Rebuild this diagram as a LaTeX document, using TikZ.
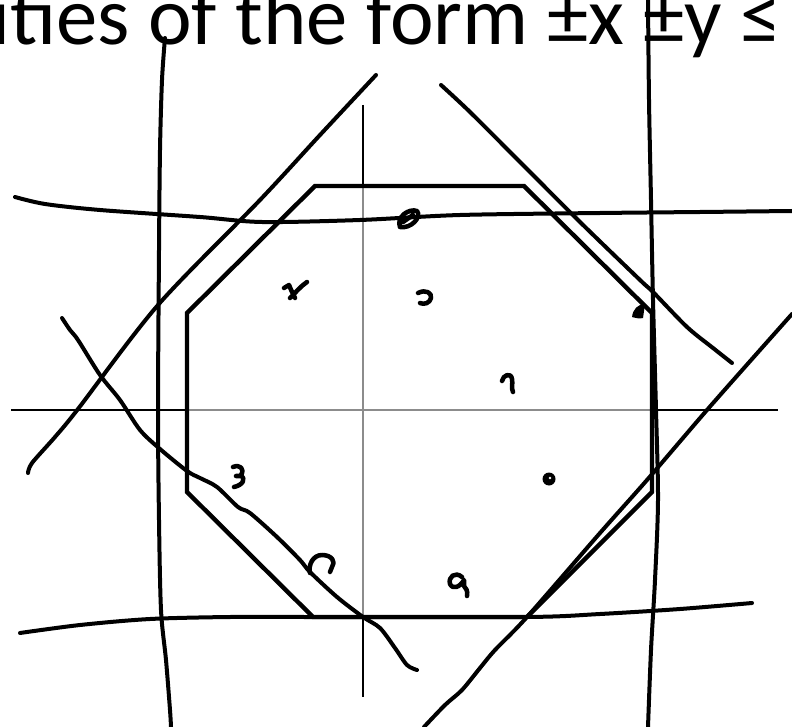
\documentclass[tikz,border=0pt]{standalone}
\usepackage{fontspec}
\setmainfont{Carlito}
\begin{document}
\begin{tikzpicture}[x=0.75pt,y=-0.75pt,
  hand/.style={line width=3pt,line cap=round,line join=round},
  octa/.style={line width=3.3pt,line join=miter},
  axisline/.style={line width=1.2pt},
  scrib/.style={line width=3.4pt,line cap=round,line join=round},
  bigtext/.style={font=\fontsize{62}{64}\selectfont,inner sep=0pt}]
\useasboundingbox (0,0) rectangle (792,727);
\clip (0,0) rectangle (792,727);
% texts
\node[bigtext,anchor=base east] (toptext) at (782,45) {inequalities of the form ±x ±y ≤};
\node[bigtext,anchor=base west] (bottext) at (-24,812) {and\hspace{0.3em} equal to\hspace{0.1em} a convex\hspace{0.4em} bound};
% axes
\draw[axisline] (11,410) -- (778,410);
\draw[axisline] (363,105) -- (363,697);
% octagon veil
\fill[white,opacity=0.55] (315,186) -- (524,186) -- (652,313) -- (652,492) -- (527,617) -- (313,617) -- (187,492) -- (187,313) -- cycle;
% hand-drawn lines
\draw[hand] plot[smooth] coordinates {(15,197) (45,204) (100,210) (200,217) (262,222) (360,220) (460,215) (600,213) (700,212) (792,211)};
\draw[hand] plot[smooth] coordinates {(20,633) (80,625) (150,619) (230,617) (313,617) (527,617) (600,614) (680,609) (752,603)};
\draw[hand] plot[smooth] coordinates {(165,38) (162,80) (160,150) (159,250) (158,410) (159,520) (161,610) (166,660) (170,710) (171,727)};
\draw[hand] plot[smooth] coordinates {(648,0) (649,100) (651,200) (653,300) (656,410) (658,500) (655,580) (651,650) (648,727)};
\draw[hand] plot[smooth] coordinates {(28,473) (32,463) (55,437) (78,409) (158,305) (260,200) (320,135) (376,75)};
\draw[hand] plot[smooth] coordinates {(441,85) (470,112) (520,162) (580,222) (640,280) (653,292) (687,327) (713,348) (732,363)};
\draw[hand] plot[smooth] coordinates {(62,318) (70,330) (78,340) (100,375) (120,400) (140,430) (160,449) (187,471) (200,478) (217,487) (238,507) (250,513) (277,537) (300,560) (310,572) (337,597) (363,617) (380,628) (395,648) (407,665) (417,670)};
\draw[hand] plot[smooth] coordinates {(424,727) (445,705) (462,690) (480,668) (495,650) (527,617) (600,533) (647,480) (707,410) (760,350) (792,314)};
% octagon
\draw[octa] (315,186) -- (524,186) -- (652,313) -- (652,492) -- (527,617) -- (313,617) -- (187,492) -- (187,313) -- cycle;
% scribbles
\draw[scrib] (400,227) .. controls (396,217) and (409,208) .. (417,211) .. controls (422,217) and (411,229) .. (400,227) (403,222) -- (413,215);
\draw[scrib] (284,288) -- (289,285) .. controls (291,290) and (293,294) .. (295,298) (290,298) .. controls (296,292) and (301,286) .. (307,282);
\draw[scrib] (418,293) .. controls (426,289) and (432,293) .. (431,298) .. controls (430,303) and (424,305) .. (420,303);
\draw[scrib] (502,381) .. controls (503,375) and (511,372) .. (512,379) .. controls (513,384) and (511,388) .. (513,392);
\fill (632,317) .. controls (633,309) and (638,304) .. (645,304) -- (643,318) .. controls (639,319) and (636,318) .. (632,317);
\draw[scrib] (233,467) .. controls (240,464) and (245,469) .. (241,475) .. controls (246,479) and (243,485) .. (234,487) (236,476) -- (241,476);
\fill (549,479) circle (6.5);
\fill[white] (550,478) circle (1.4);
\draw[scrib] (310,573) .. controls (308,565) and (313,555) .. (322,555) .. controls (332,555) and (336,562) .. (332,567) -- (330,572);
\draw[scrib] (462,577) .. controls (455,571) and (448,577) .. (450,584) .. controls (453,590) and (460,587) .. (464,580) -- (464,586) .. controls (466,588) and (468,591) .. (467,596);
\end{tikzpicture}
\end{document}
